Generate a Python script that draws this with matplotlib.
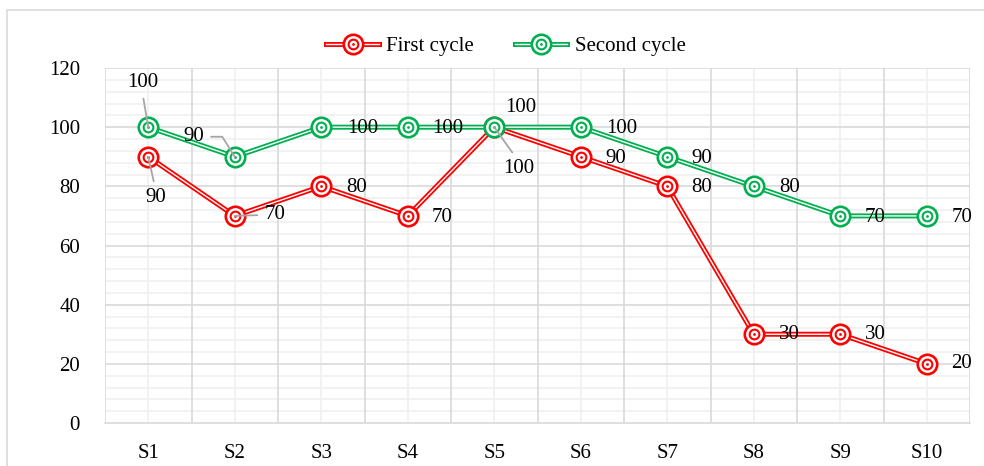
import matplotlib.pyplot as plt
import matplotlib.patheffects as pe
from matplotlib.legend_handler import HandlerTuple
from matplotlib.patches import Rectangle
from matplotlib.ticker import MultipleLocator

categories = ['S1', 'S2', 'S3', 'S4', 'S5', 'S6', 'S7', 'S8', 'S9', 'S10']
first_cycle = [90, 70, 80, 70, 100, 90, 80, 30, 30, 20]
second_cycle = [100, 90, 100, 100, 100, 100, 90, 80, 70, 70]
series_names = ['First cycle', 'Second cycle']

# label offsets in pixels (dx, dy) and leader-line settings per point
red_offsets = [(7, -41), (40, 1), (35, -1), (34, -2), (24, -41),
               (35, -2), (34, -1), (36, 0), (35, 0), (35, 0)]
green_offsets = [(-6, 45), (-41, 20), (41, -1), (40, -1), (26, 20),
                 (41, -1), (35, -2), (36, -1), (35, -2), (35, -2)]
red_leaders = {0: dict(relpos=(0.5, 1.0)), 1: dict(relpos=(0.0, 0.5)),
               4: dict(relpos=(0.45, 1.0))}
green_leaders = {0: dict(relpos=(0.5, 0.0)),
                 1: dict(relpos=(1.0, 0.5), connectionstyle='angle,angleA=0,angleB=-58,rad=0')}

RED = '#ff0000'
GREEN = '#00b050'
GRID_MAJOR = '#d9d9d9'
GRID_MINOR = '#f0f0f0'
LEADER = '#a6a6a6'

plt.rcParams['font.family'] = ['Liberation Serif', 'DejaVu Serif']
plt.rcParams['font.size'] = 15

fig = plt.figure(figsize=(9.84, 4.66), dpi=100)
ax = fig.add_axes([105 / 984, 43 / 466, 865 / 984, 355 / 466])

fig.patches.append(Rectangle((7 / 984, -0.05), 1.1, 1.05 - 10 / 466,
                             transform=fig.transFigure, fill=False,
                             edgecolor=GRID_MAJOR, lw=1.2, zorder=0))

x = list(range(1, len(categories) + 1))


def draw_series(values, color, name, z):
    line, = ax.plot(x, values, color='white', lw=1.0, solid_joinstyle='miter', zorder=z,
                    path_effects=[pe.Stroke(linewidth=3.6, foreground=color), pe.Normal()])
    outer, = ax.plot(x, values, ls='none', marker='o', ms=14, mfc='white', mec=color,
                     mew=1.9, zorder=z + 0.1)
    inner, = ax.plot(x, values, ls='none', marker='o', ms=7, mfc='white', mec=color,
                     mew=1.5, zorder=z + 0.2)
    dot, = ax.plot(x, values, ls='none', marker='o', ms=2.0, mfc=color, mec=color,
                   mew=0, zorder=z + 0.3)
    return (line, outer, inner, dot)


def draw_labels(values, offsets, leaders):
    for i, (xi, v) in enumerate(zip(x, values)):
        kw = {}
        if i in leaders:
            spec = leaders[i]
            kw['arrowprops'] = dict(arrowstyle='-', color=LEADER, lw=1.3,
                                    shrinkA=3, shrinkB=0,
                                    relpos=spec['relpos'],
                                    connectionstyle=spec.get('connectionstyle', 'arc3'))
        ax.annotate(str(v), (xi, v), xytext=offsets[i], textcoords='offset pixels',
                    ha='center', va='center', fontsize=15, color='#000000',
                    zorder=10, **kw)


h_red = draw_series(first_cycle, RED, series_names[0], 3)
h_green = draw_series(second_cycle, GREEN, series_names[1], 4)
draw_labels(first_cycle, red_offsets, red_leaders)
draw_labels(second_cycle, green_offsets, green_leaders)

ax.set_xlim(0.5, len(categories) + 0.5)
ax.set_ylim(0, 120)
ax.set_xticks(x)
ax.set_xticklabels(categories)
ax.yaxis.set_major_locator(MultipleLocator(20))
ax.yaxis.set_minor_locator(MultipleLocator(4))

# major category gridlines sit between categories, lighter ones at centers
ax.grid(False)
for xv in x:
    ax.axvline(xv, color=GRID_MINOR, lw=1.2, zorder=0)
for xv in [i + 0.5 for i in range(len(categories) + 1)]:
    ax.axvline(xv, color=GRID_MAJOR, lw=1.2, zorder=0.5)
for yv in range(0, 121, 4):
    if yv % 20:
        ax.axhline(yv, color=GRID_MINOR, lw=1.2, zorder=0)
for yv in range(20, 121, 20):
    ax.axhline(yv, color=GRID_MAJOR, lw=1.2, zorder=0.5)

for s in ['top', 'right', 'left']:
    ax.spines[s].set_visible(False)
ax.spines['bottom'].set_color(GRID_MAJOR)
ax.spines['bottom'].set_linewidth(1.2)

ax.tick_params(axis='both', which='both', length=0, labelsize=15, colors='#000000')
ax.tick_params(axis='y', pad=18)
ax.tick_params(axis='x', pad=15)

fig.legend([h_red, h_green], series_names, loc='center',
           bbox_to_anchor=(506 / 984, 1 - 46 / 466), ncol=2, frameon=False,
           handler_map={tuple: HandlerTuple(ndivide=1)}, handlelength=2.5,
           handletextpad=0.35, columnspacing=2.0, fontsize=15)

fig.savefig('out.png', dpi=100)
